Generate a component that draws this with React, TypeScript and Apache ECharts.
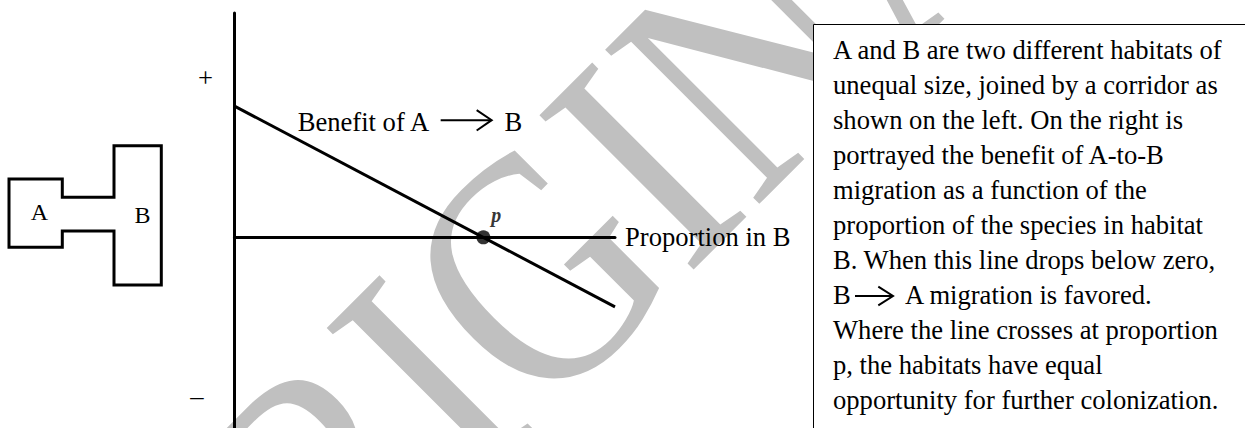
import React, { useEffect, useRef } from 'react';
import * as echarts from 'echarts';

const SERIF = '"Liberation Serif", "Times New Roman", serif';
const FS = 26.6;
const FONT = `${FS}px ${SERIF}`;

// ---- data ----
const X_RANGE = [0, 1]; // proportion in B
const Y_RANGE = [-0.85, 1]; // benefit of A -> B migration
const PROPORTION = [0, 1];
const BENEFIT = [0.585, -0.31];
const P_POINT = [0.654, 0];
const P_LABEL = 'p';
const X_AXIS_NAME = 'Proportion in B';
const SIGN_LABELS = ['+', '–'];
const SIGN_X = [-0.076, -0.099];
const SIGN_Y = [0.709, -0.707];
const BENEFIT_LABEL = ['Benefit of A', 'B'];
const BENEFIT_LABEL_AT = [0.166, 0.5147];
const HABITAT_LABELS = ['A', 'B'];
const CAPTION_LINES = [
  'A and B are two different habitats of',
  'unequal size, joined by a corridor as',
  'shown on the left. On the right is',
  'portrayed the benefit of A-to-B',
  'migration as a function of the',
  'proportion of the species in habitat',
  'B. When this line drops below zero,',
  'B → A migration is favored.',
  'Where the line crosses at proportion',
  'p, the habitats have equal',
  'opportunity for further colonization.',
];
const WATERMARK = 'ORIGINAL';

function txt(text: string, x: number, y: number, extra: any = {}, font = FONT) {
  return {
    type: 'text',
    x,
    y,
    style: {
      text,
      font,
      fill: '#000',
      align: 'left',
      verticalAlign: 'middle',
      ...extra,
    },
  };
}

export default function App() {
  const ref = useRef<HTMLDivElement>(null);
  useEffect(() => {
    if (!ref.current) return;
    const chart = echarts.init(ref.current, undefined, { renderer: 'svg' });

    const captionEls: any[] = [];
    CAPTION_LINES.forEach((line, i) => {
      const cy = 50.3 + 35 * i;
      if (line.includes('→')) {
        const [a, b] = line.split(' → ');
        captionEls.push({ ...txt(a, 833, cy), z: 11 });
        captionEls.push({ ...txt(b, 905, cy), z: 11 });
        captionEls.push({
          type: 'line', z: 11,
          shape: { x1: 855, y1: cy + 0.7, x2: 892.5, y2: cy + 0.7 },
          style: { stroke: '#000', lineWidth: 2 },
        });
        captionEls.push({
          type: 'polyline', z: 11,
          shape: { points: [[878.3, cy - 8.6], [893, cy + 0.7], [878.3, cy + 10]] },
          style: { stroke: '#000', lineWidth: 2, fill: null },
        });
      } else {
        captionEls.push({ ...txt(line, 833, cy), z: 11 });
      }
    });

    const option: any = {
      animation: false,
      backgroundColor: '#fff',
      textStyle: { fontFamily: SERIF },
      grid: { left: 234.5, top: 13, width: 380.5, bottom: 0, containLabel: false },
      xAxis: {
        type: 'value',
        min: X_RANGE[0],
        max: X_RANGE[1],
        axisLine: { show: true, onZero: true, lineStyle: { color: '#000', width: 3 } },
        axisTick: { show: false },
        axisLabel: { show: false },
        splitLine: { show: false },
        name: X_AXIS_NAME,
        nameLocation: 'end',
        nameGap: 10,
        nameTextStyle: {
          fontSize: FS,
          fontFamily: SERIF,
          color: '#000',
          padding: [4.6, 0, 0, 0],
        },
      },
      yAxis: {
        type: 'value',
        min: Y_RANGE[0],
        max: Y_RANGE[1],
        axisLine: { show: true, onZero: true, lineStyle: { color: '#000', width: 3 } },
        axisTick: { show: false },
        axisLabel: { show: false },
        splitLine: { show: false },
      },
      graphic: [
        {
          type: 'group',
          z: -1,
          silent: true,
          x: 114.2,
          y: 690.2,
          rotation: Math.PI / 4,
          scaleX: 0.95,
          scaleY: 1.11,
          children: [
            {
              type: 'text',
              z: -1,
              silent: true,
              style: {
                text: WATERMARK,
                font: `300px ${SERIF}`,
                fill: '#c0c0c0',
                align: 'left',
                verticalAlign: 'middle',
              },
            },
          ],
        },
        {
          type: 'polygon',
          z: 5,
          shape: {
            points: [
              [9, 179], [62.3, 179], [62.3, 197.3], [114, 197.3], [114, 145.7],
              [161.3, 145.7], [161.3, 285], [114, 285], [114, 231], [62.3, 231],
              [62.3, 247.3], [9, 247.3],
            ],
          },
          style: { fill: null, stroke: '#000', lineWidth: 3, lineJoin: 'miter' },
        },
        { ...txt(HABITAT_LABELS[0], 39.5, 211.9, { align: 'center' }, `24px ${SERIF}`), z: 5 },
        { ...txt(HABITAT_LABELS[1], 142.5, 214.6, { align: 'center' }, `24px ${SERIF}`), z: 5 },
        {
          type: 'rect',
          z: 10,
          shape: { x: 813.5, y: 24.5, width: 600, height: 600 },
          style: { fill: '#fff', stroke: '#000', lineWidth: 1 },
        },
        ...captionEls,
      ],
      series: [
        {
          type: 'line',
          name: 'Benefit of A → B',
          data: PROPORTION.map((x, i) => [x, BENEFIT[i]]),
          symbol: 'none',
          lineStyle: { color: '#000', width: 3 },
          z: 3,
        },
        {
          type: 'scatter',
          data: [P_POINT],
          symbolSize: 14,
          itemStyle: { color: '#000' },
          z: 4,
          label: {
            show: true,
            position: 'inside',
            offset: [13, -22.5],
            formatter: P_LABEL,
            color: '#000',
            fontSize: 20,
            fontWeight: 'bold',
            fontStyle: 'italic',
            fontFamily: SERIF,
          },
        },
        {
          type: 'custom',
          coordinateSystem: 'cartesian2d',
          clip: false,
          z: 4,
          data: SIGN_LABELS.map((s, i) => [SIGN_X[i], SIGN_Y[i], i]),
          renderItem: (params: any, api: any) => {
            const p = api.coord([api.value(0), api.value(1)]);
            const label = SIGN_LABELS[api.value(2)];
            return txt(label, p[0], p[1], { align: 'center' });
          },
        },
        {
          type: 'custom',
          coordinateSystem: 'cartesian2d',
          clip: false,
          z: 4,
          data: [BENEFIT_LABEL_AT],
          renderItem: (params: any, api: any) => {
            const [px, py] = api.coord([api.value(0), api.value(1)]);
            return {
              type: 'group',
              children: [
                txt(BENEFIT_LABEL[0], px, py),
                {
                  type: 'line',
                  shape: { x1: px + 143, y1: py - 1.7, x2: px + 193.5, y2: py - 1.7 },
                  style: { stroke: '#000', lineWidth: 2 },
                },
                {
                  type: 'polyline',
                  shape: { points: [[px + 179, py - 11.7], [px + 194, py - 1.7], [px + 179, py + 8.6]] },
                  style: { stroke: '#000', lineWidth: 2, fill: null },
                },
                txt(BENEFIT_LABEL[1], px + 206.8, py),
              ],
            };
          },
        },
      ],
    };
    chart.setOption(option);
    return () => chart.dispose();
  }, []);
  return (
    <div
      ref={ref}
      style={{ position: 'absolute', left: 0, top: 0, width: 1245, height: 428, background: '#fff' }}
    />
  );
}
